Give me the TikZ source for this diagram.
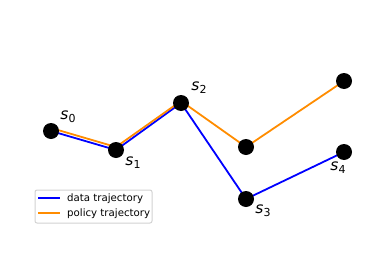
\documentclass[tikz,border=0pt]{standalone}
\usepackage{fontspec}
\setmainfont{DejaVu Sans}
\newcommand{\stname}[1]{{\itshape s}\raisebox{-0.35ex}{\fontsize{11}{11}\selectfont #1}}
\begin{document}
\begin{tikzpicture}[x=1pt,y=-1pt,
  state/.style={circle,fill=black,minimum size=16pt,inner sep=0pt},
  lab/.style={font=\fontsize{15.5}{15.5}\selectfont},
  datapath/.style={draw={rgb,255:red,0;green,0;blue,255},line width=1.8pt},
  policypath/.style={draw={rgb,255:red,255;green,140;blue,0},line width=1.8pt},
  legtext/.style={anchor=west,font=\fontsize{10.2}{10.2}\selectfont,inner sep=0pt}]
  \useasboundingbox (0,0) rectangle (372,252);

  % states
  \coordinate (d0) at (51,131);
  \coordinate (d1) at (116,150);
  \coordinate (d2) at (181,103);
  \coordinate (d3) at (246,199);
  \coordinate (d4) at (344,152);
  \coordinate (p0) at (51,128);
  \coordinate (p1) at (116,147);
  \coordinate (p2) at (181,101);
  \coordinate (p3) at (246,147);
  \coordinate (p4) at (344,81);

  % trajectories
  \draw[datapath] (d0) -- (d1) -- (d2) -- (d3) -- (d4);
  \draw[policypath] (p0) -- (p1) -- (p2) -- (p3) -- (p4);

  \foreach \n in {d0,d1,d2,d3,d4,p3,p4}
    \node[state] (\n dot) at (\n) {};

  \node[lab] (l0) at (68,117) {\stname{0}};
  \node[lab] (l1) at (133,163) {\stname{1}};
  \node[lab] (l2) at (199,88) {\stname{2}};
  \node[lab] (l3) at (263,211) {\stname{3}};
  \node[lab] (l4) at (338,168) {\stname{4}};

  % legend
  \draw[rounded corners=2pt,line width=1pt,draw={rgb,255:red,210;green,210;blue,210},fill=white] (35,190) rectangle (152,223);
  \coordinate (ka) at (38,198);
  \coordinate (kb) at (60,198);
  \coordinate (kc) at (38,213);
  \coordinate (kd) at (60,213);
  \draw[datapath] (ka) -- (kb);
  \draw[policypath] (kc) -- (kd);
  \node[legtext] (t1) at (67,199) {data trajectory};
  \node[legtext] (t2) at (67,214) {policy trajectory};
\end{tikzpicture}
\end{document}
